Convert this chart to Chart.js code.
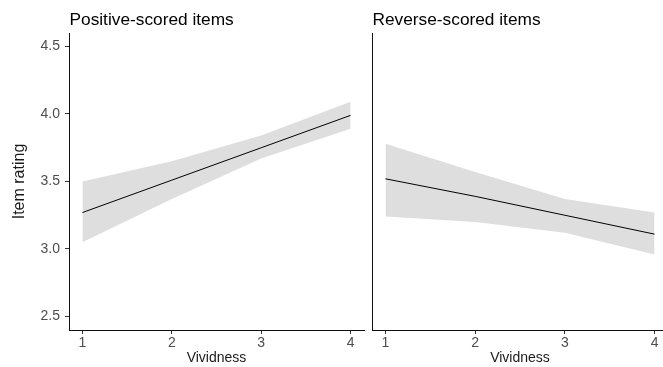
<!DOCTYPE html>
<html>
<head>
<meta charset="utf-8">
<script src="https://cdn.jsdelivr.net/npm/chart.js@4/dist/chart.umd.min.js"></script>
<style>
  html, body { margin:0; padding:0; background:#fff; overflow:hidden; width:663px; height:367px; }
  .panel { position:absolute; top:0; }
  #p1 { left:0; width:366px; height:367px; }
  #p2 { left:366px; width:304px; height:367px; }
</style>
</head>
<body>
<div class="panel" id="p1"><canvas id="c1" width="366" height="367"></canvas></div>
<div class="panel" id="p2"><canvas id="c2" width="304" height="367"></canvas></div>
<script>
// ---- data ----
const vividness = [1, 2, 3, 4];
const posFit   = [3.27, 3.51, 3.75, 3.99];
const posLower = [3.05, 3.37, 3.67, 3.89];
const posUpper = [3.50, 3.65, 3.84, 4.09];
const revFit   = [3.52, 3.39, 3.25, 3.11];
const revLower = [3.24, 3.20, 3.12, 2.96];
const revUpper = [3.78, 3.57, 3.37, 3.27];
const yTicks = [2.5, 3.0, 3.5, 4.0, 4.5];
const xTicks = [1, 2, 3, 4];
const panelTitles = ['Positive-scored items', 'Reverse-scored items'];
const xTitle = 'Vividness';
const yTitle = 'Item rating';

const FONT = "'Liberation Sans', Arial, sans-serif";
const RIBBON = 'rgb(222,222,222)';

function pts(ys) { return vividness.map((v, i) => ({x: v, y: ys[i]})); }

const panelTitlePlugin = {
  id: 'panelTitle',
  afterDraw(chart, args, opts) {
    const ctx = chart.ctx;
    ctx.save();
    ctx.font = '17.3px ' + FONT;
    ctx.fillStyle = '#000';
    ctx.textBaseline = 'alphabetic';
    ctx.textAlign = 'left';
    ctx.fillText(opts.text, chart.chartArea.left + 0.5, 25);
    ctx.restore();
  }
};

function makeChart(id, fit, lo, hi, title, leftPanel) {
  return new Chart(document.getElementById(id), {
    type: 'line',
    data: {
      datasets: [
        { data: pts(fit), borderColor: '#000', borderWidth: 1, pointRadius: 0, fill: false, order: 0, tension: 0 },
        { data: pts(lo), borderWidth: 0, borderColor: 'rgba(0,0,0,0)', pointRadius: 0, fill: false, order: 2 },
        { data: pts(hi), borderWidth: 0, borderColor: 'rgba(0,0,0,0)', pointRadius: 0, fill: '-1', backgroundColor: RIBBON, order: 1 }
      ]
    },
    options: {
      responsive: false,
      animation: false,
      devicePixelRatio: 1,
      layout: { padding: { left: 0, right: 2, top: 33, bottom: 0 } },
      plugins: {
        legend: { display: false },
        tooltip: { enabled: false },
        panelTitle: { text: title }
      },
      scales: {
        x: {
          type: 'linear',
          min: 0.85, max: 4.15,
          afterBuildTicks: s => { s.ticks = xTicks.map(v => ({value: v})); },
          afterFit: s => { s.height = 37; },
          ticks: { color: '#4d4d4d', font: { family: FONT, size: 14 }, padding: 1, callback: v => String(v) },
          grid: { display: true, drawOnChartArea: false, drawTicks: true, tickLength: 4, tickColor: '#333', tickWidth: 1 },
          border: { display: true, color: '#111', width: 1 },
          title: { display: true, text: xTitle, color: '#1a1a1a', font: { family: FONT, size: 14 }, padding: { top: 0, bottom: 0 } }
        },
        y: {
          type: 'linear',
          min: 2.4, max: 4.6,
          afterBuildTicks: s => { s.ticks = yTicks.map(v => ({value: v})); },
          afterFit: s => { s.width = leftPanel ? 69 : 6; },
          ticks: { display: leftPanel, color: '#4d4d4d', font: { family: FONT, size: 14 }, padding: 5, callback: v => v.toFixed(1) },
          grid: { display: true, drawOnChartArea: false, drawTicks: leftPanel, tickLength: leftPanel ? 4 : 0, tickColor: '#333', tickWidth: 1 },
          border: { display: true, color: '#111', width: 1 },
          title: { display: leftPanel, text: yTitle, color: '#1a1a1a', font: { family: FONT, size: 16 }, padding: { top: 10, bottom: 0 } }
        }
      }
    },
    plugins: [panelTitlePlugin]
  });
}

makeChart('c1', posFit, posLower, posUpper, panelTitles[0], true);
makeChart('c2', revFit, revLower, revUpper, panelTitles[1], false);
</script>
</body>
</html>
